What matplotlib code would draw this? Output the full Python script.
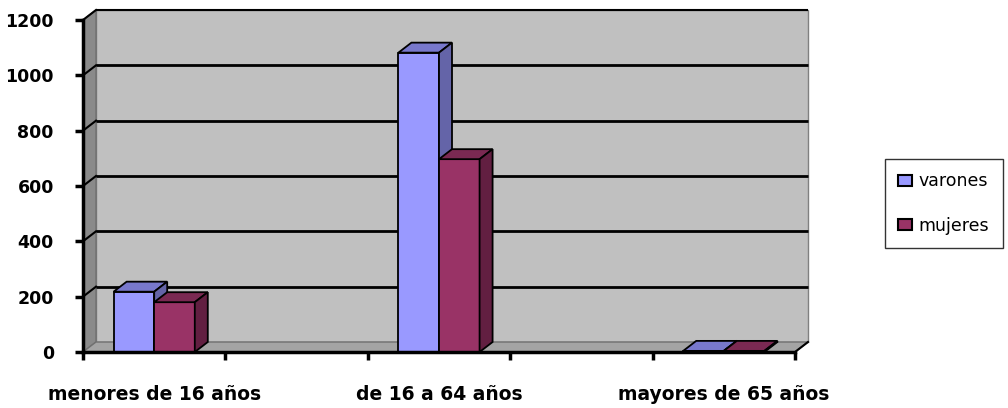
import matplotlib
matplotlib.use('Agg')
import matplotlib.pyplot as plt
from matplotlib.patches import Polygon, Patch

# ---------------------------------------------------------------------
# Datos
# ---------------------------------------------------------------------
categorias = ['menores de 16 años', 'de 16 a 64 años', 'mayores de 65 años']
posiciones = [0, 2, 4]          # Excel deja un hueco entre categorias
varones = [218, 1082, 4]
mujeres = [180, 697, 4]
series = ['varones', 'mujeres']
yticks = [0, 200, 400, 600, 800, 1000, 1200]

# colores: frente, arriba, lado
col_var = ('#9999FF', '#7878CC', '#6464A8')
col_muj = ('#993366', '#7A2952', '#621F41')

# ---------------------------------------------------------------------
# Geometria (pixeles de la imagen de referencia)
# ---------------------------------------------------------------------
W, H = 1008, 408
px_x0, px_unit = 83.0, 142.4     # x=-0.5 en px 83, 142.4 px por categoria
px_y0, px_val = 352.0, 332 / 1200  # y=0 en px 352
xlim = (-0.62, 4.65)
ylim = (-45, 1262)
DX = 13 / px_unit                # profundidad 3D
DY = 10 / px_val
ANCHO = 0.285

def a_px_x(v):
    return px_x0 + (v + 0.5) * px_unit

def a_px_y(v):
    return px_y0 - v * px_val

izq, der = a_px_x(xlim[0]), a_px_x(xlim[1])
abajo, arriba = a_px_y(ylim[0]), a_px_y(ylim[1])

fig = plt.figure(figsize=(W / 100, H / 100), dpi=100)
ax = fig.add_axes([izq / W, 1 - abajo / H, (der - izq) / W, (abajo - arriba) / H])
ax.set_xlim(*xlim)
ax.set_ylim(*ylim)
ax.patch.set_alpha(0)

x0, x1 = -0.5, 4.5
ytop = yticks[-1]

# paredes y suelo
ax.add_patch(Polygon([(x0 + DX, DY), (x1 + DX, DY), (x1 + DX, ytop + DY), (x0 + DX, ytop + DY)],
                     closed=True, fc='#C0C0C0', ec='#808080', lw=1, zorder=1))
ax.add_patch(Polygon([(x0, 0), (x0 + DX, DY), (x0 + DX, ytop + DY), (x0, ytop)],
                     closed=True, fc='#8A8A8A', ec='#707070', lw=1, zorder=1))
ax.add_patch(Polygon([(x0, 0), (x1, 0), (x1 + DX, DY), (x0 + DX, DY)],
                     closed=True, fc='#A4A4A4', ec='#707070', lw=1, zorder=1))

# lineas de division
for v in yticks[1:]:
    ax.plot([x0 + DX, x1 + DX], [v + DY, v + DY], color='black', lw=2 if v < ytop else 1.5,
            zorder=2, solid_capstyle='butt')
    ax.plot([x0, x0 + DX], [v, v + DY], color='black', lw=1.5, zorder=2)
ax.plot([x1, x1 + DX], [0, DY], color='black', lw=1.5, zorder=2)

# barras 3D
def barra(xc, val, cols, z):
    xa, xb = xc - ANCHO / 2, xc + ANCHO / 2
    ax.bar(xc, val, width=ANCHO, color=cols[0], edgecolor='black', lw=1.3, zorder=z)
    ax.add_patch(Polygon([(xa, val), (xb, val), (xb + DX, val + DY), (xa + DX, val + DY)],
                         closed=True, fc=cols[1], ec='black', lw=1.3, zorder=z))
    ax.add_patch(Polygon([(xb, 0), (xb + DX, DY), (xb + DX, val + DY), (xb, val)],
                         closed=True, fc=cols[2], ec='black', lw=1.3, zorder=z))

z = 3
for p, v, m in zip(posiciones, varones, mujeres):
    barra(p - ANCHO / 2, v, col_var, z)
    barra(p + ANCHO / 2, m, col_muj, z + 1)
    z += 2

# ejes
for lado in ['top', 'right']:
    ax.spines[lado].set_visible(False)
ax.spines['left'].set_position(('data', x0))
ax.spines['left'].set_bounds(0, ytop)
ax.spines['bottom'].set_position(('data', 0))
ax.spines['bottom'].set_bounds(x0, x1)
for lado in ['left', 'bottom']:
    ax.spines[lado].set_linewidth(2.5)
    ax.spines[lado].set_zorder(20)

ax.set_yticks(yticks)
ax.set_yticklabels([str(t) for t in yticks], fontsize=12.5, fontweight='bold')
ax.tick_params(axis='y', direction='out', length=6, width=2.5, pad=15)
ax.set_xticks([x0 + i for i in range(6)])
ax.set_xticklabels([])
ax.tick_params(axis='x', which='major', direction='out', length=6, width=2.5)
ax.set_xticks(posiciones, minor=True)
ax.set_xticklabels(categorias, minor=True, fontsize=13.5, fontweight='bold')
ax.tick_params(axis='x', which='minor', length=0, pad=24)

# leyenda
handles = [Patch(fc=col_var[0], ec='black', lw=1.5), Patch(fc=col_muj[0], ec='black', lw=1.5)]
leg = fig.legend(handles, series, loc='center left', bbox_to_anchor=(885 / W, 1 - 203.5 / H),
                 frameon=True, fancybox=False, shadow=False, fontsize=12.5,
                 handlelength=0.8, handleheight=0.6, handletextpad=0.4,
                 labelspacing=1.5, borderpad=0.75, borderaxespad=0)
leg.get_frame().set_edgecolor('black')
leg.get_frame().set_linewidth(1)

fig.savefig('out.png', dpi=100)
